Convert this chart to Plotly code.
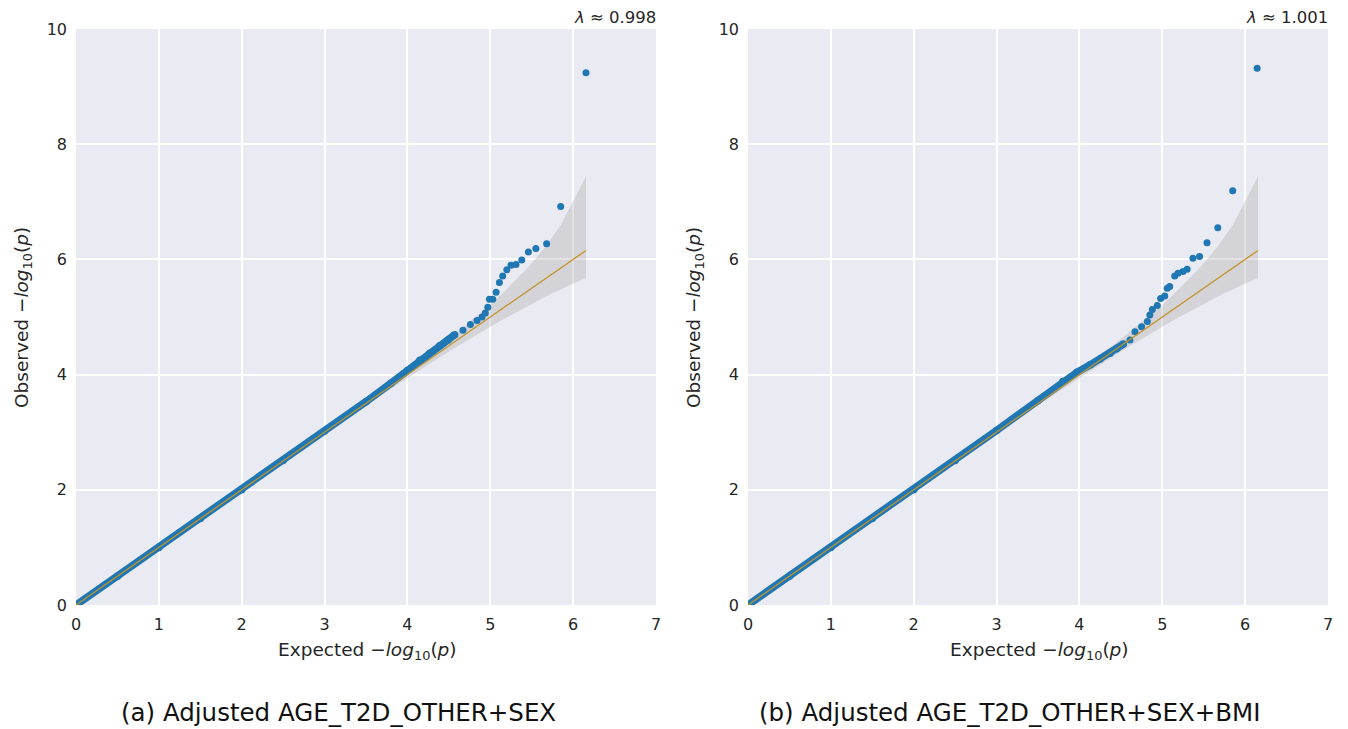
import plotly.graph_objects as go

W, H = 1348, 729

# ---- Panel (a): AGE_T2D_OTHER + SEX -------------------------------------
bulk_a_exp = [0.0, 0.5, 1.0, 1.5, 2.0, 2.5, 3.0, 3.5, 3.8, 4.0, 4.15, 4.27, 4.39, 4.49, 4.57]
bulk_a_obs = [0.0, 0.5, 1.0, 1.5, 2.0, 2.51, 3.02, 3.53, 3.85, 4.07, 4.25, 4.37, 4.50, 4.60, 4.69]
tail_a_exp = [4.67, 4.76, 4.84, 4.90, 4.94, 4.97, 4.99, 5.03, 5.07, 5.11, 5.15,
              5.20, 5.25, 5.31, 5.38, 5.46, 5.55, 5.68, 5.85, 6.155]
tail_a_obs = [4.77, 4.87, 4.94, 5.00, 5.07, 5.17, 5.31, 5.31, 5.43, 5.60, 5.71,
              5.82, 5.90, 5.91, 5.99, 6.13, 6.19, 6.27, 6.92, 9.24]
lambda_a = "0.998"
caption_a = "(a) Adjusted AGE_T2D_OTHER+SEX"

# ---- Panel (b): AGE_T2D_OTHER + SEX + BMI -------------------------------
bulk_b_exp = [0.0, 0.5, 1.0, 1.5, 2.0, 2.5, 3.0, 3.5, 3.8, 3.97, 4.13, 4.25, 4.37, 4.45, 4.53]
bulk_b_obs = [0.0, 0.5, 1.0, 1.5, 2.0, 2.51, 3.03, 3.55, 3.88, 4.04, 4.17, 4.27, 4.37, 4.45, 4.53]
tail_b_exp = [4.61, 4.67, 4.75, 4.82, 4.85, 4.88, 4.94, 4.98, 5.03, 5.06, 5.09,
              5.15, 5.19, 5.25, 5.30, 5.37, 5.45, 5.54, 5.67, 5.85, 6.145]
tail_b_obs = [4.60, 4.745, 4.83, 4.92, 5.035, 5.13, 5.20, 5.32, 5.365, 5.50, 5.53,
              5.71, 5.76, 5.79, 5.83, 6.02, 6.05, 6.29, 6.55, 7.19, 9.32]
lambda_b = "1.001"
caption_b = "(b) Adjusted AGE_T2D_OTHER+SEX+BMI"

# ---- Shared reference diagonal and 90% confidence band ------------------
diag_x = [0.0, 6.155]
diag_y = [0.0, 6.155]
band_x = [0.0, 1.0, 2.0, 3.0, 3.5, 4.0, 4.5, 5.0, 5.155, 5.456, 5.678, 5.854, 6.155]
band_hi = [0.03, 1.03, 2.03, 3.03, 3.55, 4.06, 4.62, 5.21, 5.42, 5.86, 6.24, 6.60, 7.445]
band_lo = [0.0, 0.98, 1.98, 2.98, 3.47, 3.94, 4.40, 4.83, 4.96, 5.19, 5.36, 5.48, 5.68]

BLUE = "#1f77b4"
GOLD = "#c4922a"
BG = "#eaeaf2"
TXT = "#262626"
FONT = "DejaVu Sans"

# plot-area pixel boxes
X_DOMAINS = [(76, 656), (748, 1328)]
CAPTION_X = [338, 1010]
Y_TOP, Y_BOT = 29, 605

fig = go.Figure()

panels = [
    (bulk_a_exp, bulk_a_obs, tail_a_exp, tail_a_obs, lambda_a, caption_a),
    (bulk_b_exp, bulk_b_obs, tail_b_exp, tail_b_obs, lambda_b, caption_b),
]

for k, (bx, by, tx, ty, lam, cap) in enumerate(panels):
    xa = "x" if k == 0 else "x2"
    ya = "y" if k == 0 else "y2"
    # confidence band
    fig.add_trace(go.Scatter(x=band_x, y=band_lo, mode="lines", line=dict(width=0),
                             xaxis=xa, yaxis=ya, showlegend=False, hoverinfo="skip"))
    fig.add_trace(go.Scatter(x=band_x, y=band_hi, mode="lines", line=dict(width=0),
                             fill="tonexty", fillcolor="rgba(150,150,150,0.28)",
                             xaxis=xa, yaxis=ya, showlegend=False, hoverinfo="skip"))
    # dense body of the QQ curve (round ends via markers)
    fig.add_trace(go.Scatter(x=bx, y=by, mode="lines+markers",
                             line=dict(color=BLUE, width=7.5),
                             marker=dict(color=BLUE, size=7.5, line=dict(width=0)),
                             xaxis=xa, yaxis=ya, showlegend=False))
    # tail points
    fig.add_trace(go.Scatter(x=tx, y=ty, mode="markers",
                             marker=dict(color=BLUE, size=7, line=dict(width=0)),
                             xaxis=xa, yaxis=ya, showlegend=False))
    # expected diagonal
    fig.add_trace(go.Scatter(x=diag_x, y=diag_y, mode="lines",
                             line=dict(color=GOLD, width=1.3),
                             xaxis=xa, yaxis=ya, showlegend=False))

    x0, x1 = X_DOMAINS[k]
    xc = (x0 + x1) / 2
    # lambda label
    fig.add_annotation(x=(x1 + 2) / W, y=1 - 17 / H, xref="paper", yref="paper",
                       text=f"<i>λ</i> ≈ {lam}", showarrow=False,
                       xanchor="right", yanchor="middle",
                       font=dict(family=FONT, size=16.5, color=TXT))
    # axis titles
    fig.add_annotation(x=(xc + 1) / W, y=1 - 651 / H, xref="paper", yref="paper",
                       text="Expected −<i>log</i><sub>10</sub>(<i>p</i>)", showarrow=False,
                       xanchor="center", yanchor="middle",
                       font=dict(family=FONT, size=18.5, color=TXT))
    fig.add_annotation(x=(x0 - 53) / W, y=1 - ((Y_TOP + Y_BOT) / 2 + 1) / H,
                       xref="paper", yref="paper",
                       text="Observed −<i>log</i><sub>10</sub>(<i>p</i>)", showarrow=False,
                       textangle=-90, xanchor="center", yanchor="middle",
                       font=dict(family=FONT, size=18.5, color=TXT))
    # caption
    fig.add_annotation(x=CAPTION_X[k] / W, y=1 - 712 / H,
                       xref="paper", yref="paper", text=cap, showarrow=False,
                       xanchor="center", yanchor="middle",
                       font=dict(family=FONT, size=24.5, color="#111111"))

axis_common = dict(showgrid=True, gridcolor="white", gridwidth=1.6, zeroline=False,
                   showline=False, ticks="", automargin=False,
                   tickfont=dict(family=FONT, size=16, color=TXT),
                   fixedrange=True)

ydom = [1 - Y_BOT / H, 1 - Y_TOP / H]
fig.update_layout(
    width=W, height=H,
    margin=dict(l=0, r=0, t=0, b=0),
    paper_bgcolor="white", plot_bgcolor=BG,
    xaxis=dict(domain=[X_DOMAINS[0][0] / W, X_DOMAINS[0][1] / W], range=[0, 7],
               tickvals=list(range(8)), anchor="y", ticklabelstandoff=8, **axis_common),
    yaxis=dict(domain=ydom, range=[0, 10], tickvals=[0, 2, 4, 6, 8, 10], anchor="x",
               ticklabelstandoff=8, **axis_common),
    xaxis2=dict(domain=[X_DOMAINS[1][0] / W, X_DOMAINS[1][1] / W], range=[0, 7],
                tickvals=list(range(8)), anchor="y2", ticklabelstandoff=8, **axis_common),
    yaxis2=dict(domain=ydom, range=[0, 10], tickvals=[0, 2, 4, 6, 8, 10], anchor="x2",
                ticklabelstandoff=8, **axis_common),
    showlegend=False,
)

fig.write_html("out.html")
